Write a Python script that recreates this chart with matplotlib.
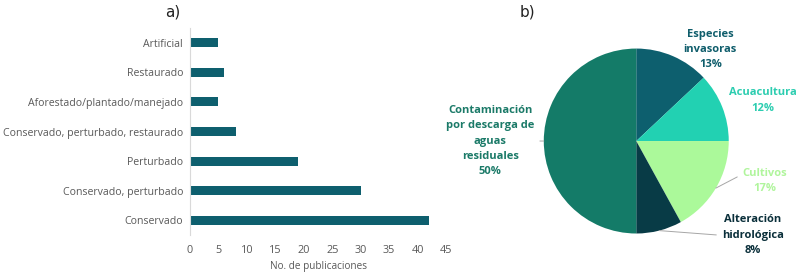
import matplotlib
matplotlib.use("Agg")
import matplotlib.pyplot as plt
import numpy as np

plt.rcParams["font.family"] = ["Open Sans", "DejaVu Sans"]

# panel a) habitat condition vs number of publications
CATEGORIES = [
    "Artificial", "Restaurado", "Aforestado/plantado/manejado",
    "Conservado, perturbado, restaurado", "Perturbado",
    "Conservado, perturbado", "Conservado",
]
PUBLICATIONS = [5, 6, 5, 8, 19, 30, 42]
X_TICKS = [0, 5, 10, 15, 20, 25, 30, 35, 40, 45]

# panel b) pressures (%)
PRESSURES = ["Especies\ninvasoras", "Acuacultura", "Cultivos",
             "Alteración\nhidrológica",
             "Contaminación\npor descarga de\naguas\nresiduales"]
SHARES = [13, 12, 17, 8, 50]
PIE_COLORS = ["#0d5f6e", "#22d1b2", "#abf99a", "#083b46", "#147b68"]
TEXT_COLORS = ["#0f5d6b", "#2ccdb0", "#b0f59c", "#0a2f3a", "#1b7a68"]

BAR = "#0e5f6e"
GREY = "#595959"

fig = plt.figure(figsize=(8, 2.74), dpi=100)

# ---- a)
ax = fig.add_axes([0.2375, 0.142, 0.32, 0.756])
y = np.arange(len(CATEGORIES))
ax.barh(y, PUBLICATIONS, height=0.3, color=BAR)
ax.set_yticks(y)
ax.set_yticklabels(CATEGORIES, fontsize=7.6, color=GREY)
ax.invert_yaxis()
ax.set_ylim(6.5, -0.5)
ax.set_xlim(0, 45)
ax.set_xticks(X_TICKS)
ax.tick_params(axis="x", length=0, labelsize=7.8, labelcolor=GREY, pad=7)
ax.tick_params(axis="y", length=0, pad=5)
ax.set_xlabel("No. de publicaciones", fontsize=7.2, color=GREY, labelpad=4)
for s in ("top", "right", "bottom"):
    ax.spines[s].set_visible(False)
ax.spines["left"].set_color("#d9d9d9")
ax.spines["left"].set_linewidth(0.8)
fig.text(0.206, 0.955, "a)", fontsize=11, color="#222222",
         family="DejaVu Sans", va="center", ha="left")

# ---- b)
pax = fig.add_axes([0.6797, 0.1478, 0.23125, 0.675])
wedges, _ = pax.pie(SHARES, colors=PIE_COLORS, startangle=90,
                    counterclock=False, radius=1)
pax.set_xlim(-1, 1)
pax.set_ylim(-1, 1)
pax.set_aspect("equal")

label_pos = [(0.80, 0.99), (1.37, 0.44), (1.39, -0.43), (1.26, -1.02), (-1.58, 0.0)]
leader = [None, None, (0, 0.75), (0, 0.5), (1, 0.5)]
for w, name, share, pos, tc, rel in zip(wedges, PRESSURES, SHARES,
                                        label_pos, TEXT_COLORS, leader):
    txt = f"{name}\n{share}%"
    if rel is None:
        pax.text(pos[0], pos[1], txt, ha="center", va="center",
                 fontsize=8, fontweight="bold", color=tc,
                 linespacing=1.55, clip_on=False)
    else:
        ang = np.deg2rad((w.theta1 + w.theta2) / 2)
        pax.annotate(txt, xy=(np.cos(ang), np.sin(ang)), xytext=pos,
                     ha="center", va="center", fontsize=8,
                     fontweight="bold", color=tc, linespacing=1.55,
                     annotation_clip=False,
                     arrowprops=dict(arrowstyle="-", color="#a6a6a6",
                                     lw=0.7, shrinkA=2, shrinkB=0,
                                     relpos=rel))
fig.text(0.650, 0.955, "b)", fontsize=11, color="#222222",
         family="DejaVu Sans", va="center", ha="left")

fig.savefig("out.png", dpi=100)
